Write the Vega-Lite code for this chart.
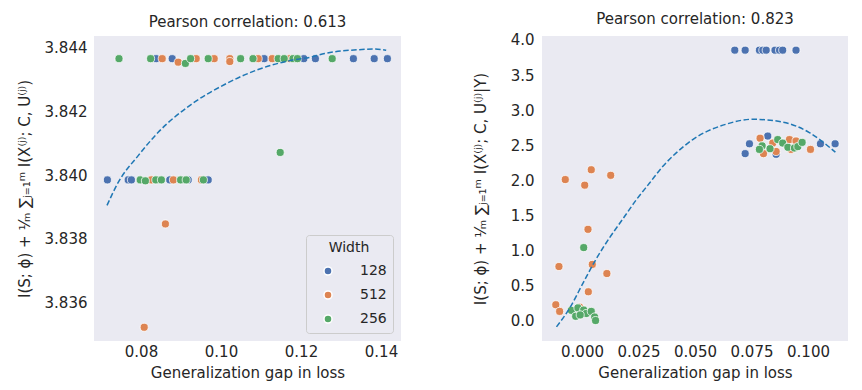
{
  "$schema": "https://vega.github.io/schema/vega-lite/v6.json",
  "padding": {"left": 17, "top": 11, "right": 5, "bottom": 5},
  "background": "white",
  "config": {
    "font": "DejaVu Sans",
    "view": {"fill": "#EAEAF2", "stroke": null},
    "axis": {"domain": false, "ticks": false, "grid": false, "labelFontSize": 15, "titleFontSize": 15, "labelColor": "#262626", "titleColor": "#262626", "titleFontWeight": "normal", "labelOverlap": false},
    "title": {"fontSize": 15, "fontWeight": "normal", "color": "#262626", "offset": 6},
    "legend": {"labelFontSize": 14, "titleFontSize": 14, "titleFontWeight": "normal", "labelColor": "#262626", "titleColor": "#262626"}
  },
  "datasets": {
    "left_pts": [
      {"gap": 0.0716, "mi": 3.83985, "Width": "128"},
      {"gap": 0.0768, "mi": 3.83985, "Width": "128"},
      {"gap": 0.0776, "mi": 3.83985, "Width": "128"},
      {"gap": 0.0872, "mi": 3.83985, "Width": "128"},
      {"gap": 0.0918, "mi": 3.83985, "Width": "128"},
      {"gap": 0.0968, "mi": 3.83985, "Width": "128"},
      {"gap": 0.0838, "mi": 3.84365, "Width": "128"},
      {"gap": 0.0878, "mi": 3.84365, "Width": "128"},
      {"gap": 0.1108, "mi": 3.84365, "Width": "128"},
      {"gap": 0.1207, "mi": 3.84365, "Width": "128"},
      {"gap": 0.1236, "mi": 3.84365, "Width": "128"},
      {"gap": 0.1331, "mi": 3.84365, "Width": "128"},
      {"gap": 0.1383, "mi": 3.84365, "Width": "128"},
      {"gap": 0.1416, "mi": 3.84365, "Width": "128"},
      {"gap": 0.0826, "mi": 3.83985, "Width": "512"},
      {"gap": 0.0881, "mi": 3.83985, "Width": "512"},
      {"gap": 0.0951, "mi": 3.83985, "Width": "512"},
      {"gap": 0.0853, "mi": 3.84365, "Width": "512"},
      {"gap": 0.0893, "mi": 3.84354, "Width": "512"},
      {"gap": 0.0938, "mi": 3.84365, "Width": "512"},
      {"gap": 0.0983, "mi": 3.84365, "Width": "512"},
      {"gap": 0.1022, "mi": 3.84365, "Width": "512"},
      {"gap": 0.1022, "mi": 3.84356, "Width": "512"},
      {"gap": 0.1093, "mi": 3.84365, "Width": "512"},
      {"gap": 0.1128, "mi": 3.84365, "Width": "512"},
      {"gap": 0.1172, "mi": 3.84365, "Width": "512"},
      {"gap": 0.0861, "mi": 3.83847, "Width": "512"},
      {"gap": 0.0808, "mi": 3.83523, "Width": "512"},
      {"gap": 0.0798, "mi": 3.83985, "Width": "256"},
      {"gap": 0.0811, "mi": 3.83982, "Width": "256"},
      {"gap": 0.0837, "mi": 3.83985, "Width": "256"},
      {"gap": 0.0851, "mi": 3.83985, "Width": "256"},
      {"gap": 0.0899, "mi": 3.83985, "Width": "256"},
      {"gap": 0.0913, "mi": 3.83985, "Width": "256"},
      {"gap": 0.0956, "mi": 3.83985, "Width": "256"},
      {"gap": 0.0745, "mi": 3.84365, "Width": "256"},
      {"gap": 0.0824, "mi": 3.84365, "Width": "256"},
      {"gap": 0.0911, "mi": 3.8435, "Width": "256"},
      {"gap": 0.0924, "mi": 3.84365, "Width": "256"},
      {"gap": 0.0968, "mi": 3.84365, "Width": "256"},
      {"gap": 0.1049, "mi": 3.84365, "Width": "256"},
      {"gap": 0.108, "mi": 3.84365, "Width": "256"},
      {"gap": 0.1143, "mi": 3.84365, "Width": "256"},
      {"gap": 0.1158, "mi": 3.84365, "Width": "256"},
      {"gap": 0.118, "mi": 3.84365, "Width": "256"},
      {"gap": 0.1191, "mi": 3.84365, "Width": "256"},
      {"gap": 0.1278, "mi": 3.84365, "Width": "256"},
      {"gap": 0.1148, "mi": 3.84071, "Width": "256"}
    ],
    "left_fit": [
      {"gap": 0.0715, "mi": 3.83905},
      {"gap": 0.0743, "mi": 3.83977},
      {"gap": 0.0793, "mi": 3.84061},
      {"gap": 0.0843, "mi": 3.84134},
      {"gap": 0.0926, "mi": 3.84222},
      {"gap": 0.1009, "mi": 3.84284},
      {"gap": 0.1093, "mi": 3.84331},
      {"gap": 0.1176, "mi": 3.8436},
      {"gap": 0.1225, "mi": 3.8437},
      {"gap": 0.1259, "mi": 3.84381},
      {"gap": 0.1343, "mi": 3.84393},
      {"gap": 0.1385, "mi": 3.84395},
      {"gap": 0.1413, "mi": 3.84391}
    ],
    "right_pts": [
      {"gap": 0.0676, "mi": 3.855, "Width": "128"},
      {"gap": 0.0722, "mi": 3.855, "Width": "128"},
      {"gap": 0.0785, "mi": 3.855, "Width": "128"},
      {"gap": 0.080, "mi": 3.855, "Width": "128"},
      {"gap": 0.0815, "mi": 3.855, "Width": "128"},
      {"gap": 0.0854, "mi": 3.855, "Width": "128"},
      {"gap": 0.0874, "mi": 3.855, "Width": "128"},
      {"gap": 0.0888, "mi": 3.855, "Width": "128"},
      {"gap": 0.0947, "mi": 3.855, "Width": "128"},
      {"gap": 0.0722, "mi": 2.38, "Width": "128"},
      {"gap": 0.0741, "mi": 2.52, "Width": "128"},
      {"gap": 0.0822, "mi": 2.63, "Width": "128"},
      {"gap": 0.0859, "mi": 2.37, "Width": "128"},
      {"gap": 0.1055, "mi": 2.52, "Width": "128"},
      {"gap": 0.112, "mi": 2.52, "Width": "128"},
      {"gap": 0.0788, "mi": 2.6, "Width": "512"},
      {"gap": 0.0803, "mi": 2.38, "Width": "512"},
      {"gap": 0.0844, "mi": 2.53, "Width": "512"},
      {"gap": 0.0859, "mi": 2.41, "Width": "512"},
      {"gap": 0.0918, "mi": 2.58, "Width": "512"},
      {"gap": 0.0925, "mi": 2.44, "Width": "512"},
      {"gap": 0.0947, "mi": 2.56, "Width": "512"},
      {"gap": 0.1011, "mi": 2.44, "Width": "512"},
      {"gap": -0.0074, "mi": 2.01, "Width": "512"},
      {"gap": 0.0041, "mi": 2.15, "Width": "512"},
      {"gap": 0.0012, "mi": 1.93, "Width": "512"},
      {"gap": 0.0127, "mi": 2.07, "Width": "512"},
      {"gap": 0.00265, "mi": 1.3, "Width": "512"},
      {"gap": -0.0102, "mi": 0.77, "Width": "512"},
      {"gap": 0.00455, "mi": 0.8, "Width": "512"},
      {"gap": 0.011, "mi": 0.67, "Width": "512"},
      {"gap": 0.0028, "mi": 0.41, "Width": "512"},
      {"gap": -0.0116, "mi": 0.225, "Width": "512"},
      {"gap": -0.0099, "mi": 0.13, "Width": "512"},
      {"gap": -0.001, "mi": 0.19, "Width": "512"},
      {"gap": 0.0797, "mi": 2.49, "Width": "256"},
      {"gap": 0.0785, "mi": 2.44, "Width": "256"},
      {"gap": 0.0832, "mi": 2.45, "Width": "256"},
      {"gap": 0.0866, "mi": 2.58, "Width": "256"},
      {"gap": 0.0888, "mi": 2.53, "Width": "256"},
      {"gap": 0.0911, "mi": 2.47, "Width": "256"},
      {"gap": 0.094, "mi": 2.46, "Width": "256"},
      {"gap": 0.0955, "mi": 2.48, "Width": "256"},
      {"gap": 0.0974, "mi": 2.54, "Width": "256"},
      {"gap": 0.00075, "mi": 1.04, "Width": "256"},
      {"gap": -0.0047, "mi": 0.145, "Width": "256"},
      {"gap": -0.0018, "mi": 0.18, "Width": "256"},
      {"gap": 0.00075, "mi": 0.15, "Width": "256"},
      {"gap": -0.0028, "mi": 0.06, "Width": "256"},
      {"gap": 0.0019, "mi": 0.1, "Width": "256"},
      {"gap": 0.0041, "mi": 0.13, "Width": "256"},
      {"gap": 0.0056, "mi": 0.05, "Width": "256"},
      {"gap": 0.006, "mi": 0.0, "Width": "256"},
      {"gap": -0.0008, "mi": 0.08, "Width": "256"}
    ],
    "right_fit": [
      {"gap": -0.0113, "mi": -0.09},
      {"gap": -0.0054, "mi": 0.18},
      {"gap": 0.0004, "mi": 0.53},
      {"gap": 0.0063, "mi": 0.88},
      {"gap": 0.0122, "mi": 1.18},
      {"gap": 0.0181, "mi": 1.45},
      {"gap": 0.024, "mi": 1.72},
      {"gap": 0.0299, "mi": 1.96},
      {"gap": 0.0358, "mi": 2.2},
      {"gap": 0.0417, "mi": 2.39},
      {"gap": 0.049, "mi": 2.58},
      {"gap": 0.0638, "mi": 2.8},
      {"gap": 0.0756, "mi": 2.87},
      {"gap": 0.0888, "mi": 2.83},
      {"gap": 0.1006, "mi": 2.68},
      {"gap": 0.1121, "mi": 2.4}
    ]
  },
  "hconcat": [
    {
      "width": 307,
      "height": 305,
      "title": "Pearson correlation: 0.613",
      "layer": [
        {
          "data": {"name": "left_pts"},
          "mark": {"type": "point", "filled": true, "size": 65, "opacity": 1, "stroke": "white", "strokeWidth": 0.75},
          "encoding": {
            "x": {"field": "gap", "type": "quantitative", "scale": {"domain": [0.06825, 0.145], "nice": false, "zero": false}, "axis": {"values": [0.08, 0.1, 0.12, 0.14], "format": ".2f", "labelPadding": 3, "titlePadding": 6, "title": "Generalization gap in loss"}},
            "y": {"field": "mi", "type": "quantitative", "scale": {"domain": [3.8348, 3.84436], "nice": false, "zero": false}, "axis": {"values": [3.836, 3.838, 3.84, 3.842, 3.844], "format": ".3f", "labelPadding": 7, "titlePadding": 12, "labelOverlap": false, "title": "I(S; ϕ) + ¹⁄ₘ ∑ⱼ₌₁ᵐ I(X⁽ʲ⁾; C, U⁽ʲ⁾)"}},
            "color": {"field": "Width", "type": "nominal", "scale": {"domain": ["128", "512", "256"], "range": ["#4C72B0", "#DD8452", "#55A868"]}, "legend": {"orient": "bottom-right", "offset": 8, "title": "Width", "titleAnchor": "middle", "titleAlign": "center", "padding": 6, "symbolOffset": 9, "labelOffset": 25, "rowPadding": 8, "titlePadding": 9, "symbolSize": 65, "symbolType": "circle", "strokeColor": "#cccccc", "fillColor": "#EAEAF2", "cornerRadius": 3}}
          }
        },
        {
          "data": {"name": "left_fit"},
          "mark": {"type": "line", "color": "#1f77b4", "strokeWidth": 1.5, "strokeDash": [5.5, 2.5], "interpolate": "monotone"},
          "encoding": {"x": {"field": "gap", "type": "quantitative"}, "y": {"field": "mi", "type": "quantitative"}}
        }
      ]
    },
    {
      "width": 306,
      "height": 305,
      "title": "Pearson correlation: 0.823",
      "layer": [
        {
          "data": {"name": "right_pts"},
          "mark": {"type": "point", "filled": true, "size": 65, "opacity": 1, "stroke": "white", "strokeWidth": 0.75},
          "encoding": {
            "x": {"field": "gap", "type": "quantitative", "scale": {"domain": [-0.0177, 0.1177], "nice": false, "zero": false}, "axis": {"values": [0, 0.025, 0.05, 0.075, 0.1], "format": ".3f", "labelPadding": 3, "titlePadding": 6, "title": "Generalization gap in loss"}},
            "y": {"field": "mi", "type": "quantitative", "scale": {"domain": [-0.292, 4.057], "nice": false, "zero": false}, "axis": {"values": [0, 0.5, 1, 1.5, 2, 2.5, 3, 3.5, 4], "tickCount": 9, "labelSeparation": 0, "format": ".1f", "labelPadding": 8, "titlePadding": 22, "labelOverlap": false, "labelBound": false, "title": "I(S; ϕ) + ¹⁄ₘ ∑ⱼ₌₁ᵐ I(X⁽ʲ⁾; C, U⁽ʲ⁾|Y)"}},
            "color": {"field": "Width", "type": "nominal", "scale": {"domain": ["128", "512", "256"], "range": ["#4C72B0", "#DD8452", "#55A868"]}, "legend": null}
          }
        },
        {
          "data": {"name": "right_fit"},
          "mark": {"type": "line", "color": "#1f77b4", "strokeWidth": 1.5, "strokeDash": [5.5, 2.5], "interpolate": "monotone"},
          "encoding": {"x": {"field": "gap", "type": "quantitative"}, "y": {"field": "mi", "type": "quantitative"}}
        }
      ]
    }
  ],
  "spacing": 72,
  "resolve": {"scale": {"color": "independent"}}
}
